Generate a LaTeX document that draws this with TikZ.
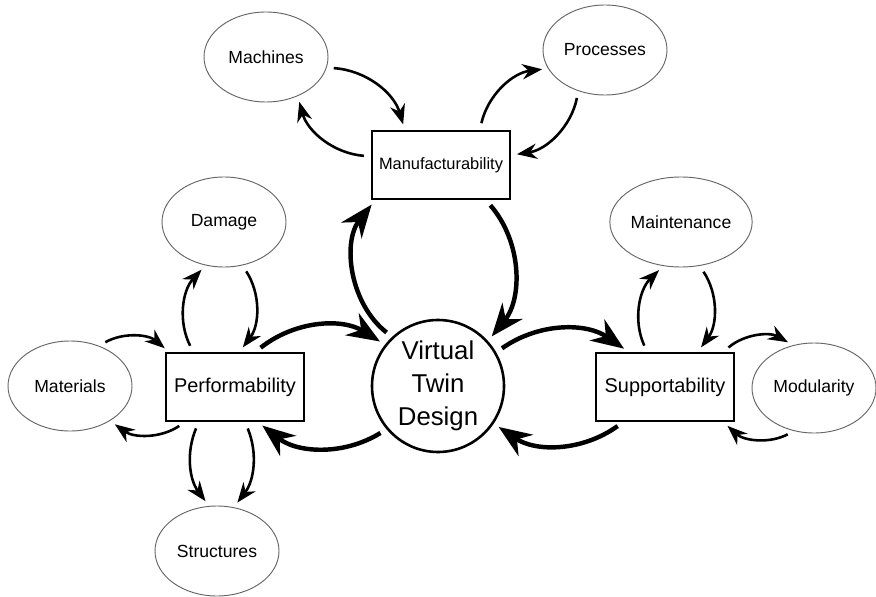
\documentclass[tikz,border=0pt]{standalone}
\usepackage{fontspec}
\setmainfont{Liberation Sans}
\usetikzlibrary{arrows.meta,shapes.geometric}

\begin{document}
\begin{tikzpicture}[x=0.03cm, y=-0.03cm,
    leaf/.style={ellipse, draw=black!60, line width=0.8pt, minimum width=3.72cm, minimum height=2.7cm, inner sep=0pt, font=\fontsize{15}{18}\selectfont},
    hub/.style={rectangle, draw, line width=1.9pt, minimum width=4.14cm, minimum height=2.03cm, inner sep=0pt, font=\fontsize{17}{20}\selectfont},
    core/.style={circle, draw, line width=2.2pt, minimum size=3.96cm, inner sep=0pt, align=center, font=\fontsize{22}{28}\selectfont},
    smallarc/.style={-{Stealth[length=17pt, width=13pt]}, line width=2.2pt, shorten <=6pt, shorten >=5pt},
    bigarc/.style={-{Stealth[length=28pt, width=22pt]}, line width=3.8pt, shorten <=6pt, shorten >=5pt}]
  \useasboundingbox (0, 0) rectangle (876, 597);

  \node[leaf] (mach) at (266, 57) {Machines};
  \node[leaf] (proc) at (605, 50) {Processes};
  \node[hub, font=\fontsize{14}{17}\selectfont] (manu) at (441, 165) {Manufacturability};
  \node[leaf] (dam) at (224, 222) {Damage};
  \node[leaf] (maint) at (681, 222) {Maintenance};
  \node[leaf] (mat) at (70, 386) {Materials};
  \node[hub] (perf) at (235, 387) {Performability};
  \node[core] (vtd) at (438, 386) {Virtual\\Twin\\Design};
  \node[hub] (supp) at (665, 387) {Supportability};
  \node[leaf] (mod) at (814, 388) {Modularity};
  \node[leaf] (str) at (217, 551) {Structures};

  \draw[smallarc] (mach.-10) to[bend left=35] (manu.136);
  \draw[smallarc] (manu.173) to[bend left=35] (mach.-51);
  \draw[smallarc] (manu.42) to[bend left=35] (proc.198);
  \draw[smallarc] (proc.237) to[bend left=35] (manu.8);
  \draw[bigarc] (manu.-38) to[bend left=40] (vtd.42);
  \draw[bigarc] (vtd.133) to[bend left=45] (manu.208);
  \draw[smallarc] (dam.-67) to[bend left=35] (perf.83);
  \draw[smallarc] (perf.140) to[bend left=35] (dam.247);
  \draw[smallarc] (mat.54) to[bend left=35] (perf.152);
  \draw[smallarc] (perf.215) to[bend left=35] (mat.-41);
  \draw[bigarc] (perf.60) to[bend left=35] (vtd.142);
  \draw[bigarc] (vtd.220) to[bend left=35] (perf.-57);
  \draw[smallarc] (perf.224) to[bend right=30] (str.100);
  \draw[smallarc] (perf.-74) to[bend left=30] (str.69);
  \draw[bigarc] (vtd.30) to[bend left=35] (supp.136);
  \draw[bigarc] (supp.220) to[bend left=35] (vtd.-34);
  \draw[smallarc] (supp.117) to[bend left=35] (maint.248);
  \draw[smallarc] (maint.-67) to[bend left=35] (supp.47);
  \draw[smallarc] (supp.31) to[bend left=35] (mod.116);
  \draw[smallarc] (mod.245) to[bend left=35] (supp.-31);
\end{tikzpicture}
\end{document}
